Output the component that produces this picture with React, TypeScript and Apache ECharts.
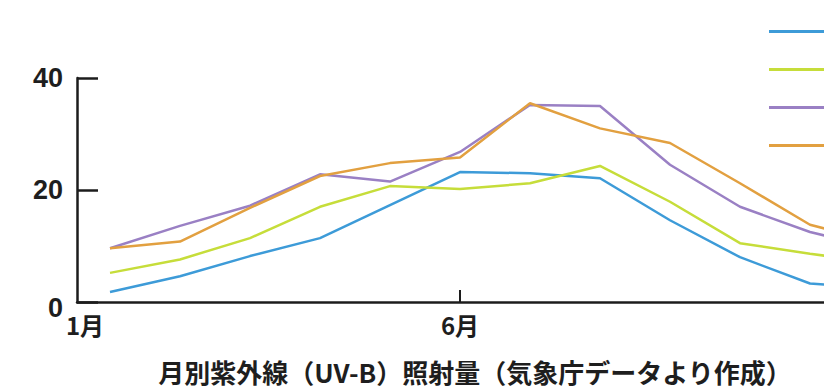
import React, { useEffect, useRef } from "react";
import * as echarts from "echarts";

const months = [1, 2, 3, 4, 5, 6, 7, 8, 9, 10, 11, 12];
const seriesNames = ["札幌", "つくば", "鹿児島", "那覇"];
const seriesColors = ["#3d9bd8", "#c6dd3a", "#9a80c4", "#e2a040"];
const blueValues = [1.8, 4.6, 8.2, 11.4, 17.3, 23.2, 23.0, 22.1, 14.6, 8.0, 3.3, 2.5];
const yellowValues = [5.2, 7.6, 11.4, 17.0, 20.7, 20.2, 21.2, 24.3, 17.9, 10.5, 8.6, 7.0];
const purpleValues = [9.6, 13.6, 17.2, 22.8, 21.5, 26.8, 35.2, 35.0, 24.5, 17.0, 12.5, 9.5];
const orangeValues = [9.6, 10.8, 16.8, 22.5, 24.8, 25.8, 35.5, 31.0, 28.4, 21.2, 13.8, 10.5];
const xLabelMonths = [1, 6];
const xTickMonths = [6];
const yTicks = [0, 20, 40];
const caption = "月別紫外線（UV-B）照射量（気象庁データより作成）";

const allValues = [blueValues, yellowValues, purpleValues, orangeValues];

export default function App() {
  const ref = useRef<HTMLDivElement>(null);
  useEffect(() => {
    if (!ref.current) return;
    const chart = echarts.init(ref.current, undefined, { renderer: "svg" });
    const axisColor = "#1c1c1c";
    chart.setOption({
      animation: false,
      backgroundColor: "#ffffff",
      grid: { left: 77, top: 78, bottom: 88, right: 5, containLabel: false },
      legend: {
        orient: "vertical",
        left: 764,
        top: 25,
        icon: "rect",
        itemWidth: 58,
        itemHeight: 3,
        itemGap: 35,
        formatter: () => "",
        textStyle: { fontSize: 14, color: "#222" },
        data: seriesNames,
      },
      xAxis: {
        type: "value",
        min: 1 - 33 / 70,
        max: 12.5,
        axisLine: { show: true, lineStyle: { color: axisColor, width: 2.5 } },
        splitLine: { show: false },
        axisTick: {
          show: true,
          inside: true,
          length: 12,
          customValues: xTickMonths,
          lineStyle: { color: axisColor, width: 2 },
        },
        axisLabel: {
          show: true,
          customValues: xLabelMonths,
          margin: 10,
          formatter: (v: number) => (v === 1 ? "{a|" + v + "月}" : "{b|" + v + "月}"),
          rich: {
            a: {
              fontSize: 24,
              fontWeight: "bold",
              fontFamily: "Noto Sans CJK JP",
              color: "#1e1e1e",
              padding: [0, 50, 0, 0],
            },
            b: {
              fontSize: 24,
              fontWeight: "bold",
              fontFamily: "Noto Sans CJK JP",
              color: "#1e1e1e",
            },
          },
        },
      },
      yAxis: {
        type: "value",
        min: 0,
        max: 40,
        interval: 20,
        axisLine: { show: true, lineStyle: { color: axisColor, width: 2.5 } },
        splitLine: { show: false },
        axisTick: {
          show: true,
          inside: true,
          length: 21,
          lineStyle: { color: axisColor, width: 2.5 },
        },
        axisLabel: {
          margin: 14,
          customValues: yTicks,
          formatter: (v: number) => (v === 0 ? "{z|0}" : "{n|" + v + "}"),
          rich: {
            z: {
              fontSize: 27,
              fontWeight: "bold",
              fontFamily: "Liberation Sans",
              color: "#1e1e1e",
              padding: [12, 0, 0, 0],
            },
            n: {
              fontSize: 27,
              fontWeight: "bold",
              fontFamily: "Liberation Sans",
              color: "#1e1e1e",
            },
          },
        },
      },
      series: allValues.map((vals, i) => ({
        name: seriesNames[i],
        type: "line",
        showSymbol: false,
        symbol: "none",
        color: seriesColors[i],
        lineStyle: { color: seriesColors[i], width: 2.5 },
        data: months.map((m, j) => [m, vals[j]]),
      })),
      graphic: [
        {
          type: "text",
          x: 475,
          y: 371,
          style: {
            text: caption,
            fontSize: 26,
            fontWeight: "bold",
            fontFamily: "Noto Sans CJK JP",
            fill: "#1e1e1e",
            textAlign: "center",
            textVerticalAlign: "middle",
          },
        },
      ],
    });
    return () => chart.dispose();
  }, []);
  return (
    <div
      style={{
        position: "absolute",
        left: 0,
        top: 0,
        width: 824,
        height: 390,
        overflow: "hidden",
        background: "#fff",
      }}
    >
      <div ref={ref} style={{ width: 920, height: 390 }} />
    </div>
  );
}
